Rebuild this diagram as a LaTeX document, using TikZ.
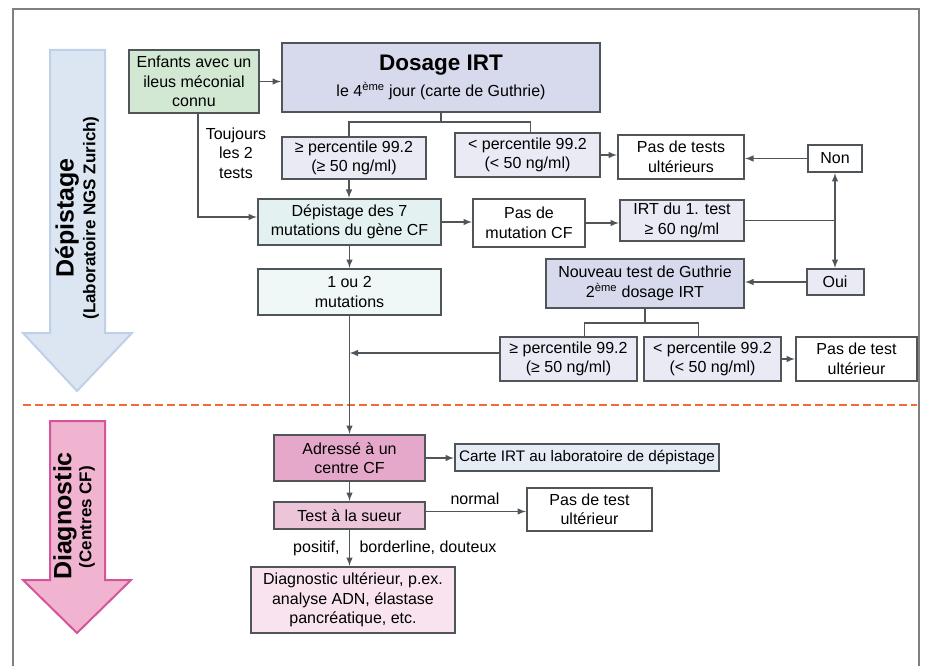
\documentclass[tikz,border=0pt]{standalone}
\usepackage{fontspec}
\setmainfont{Liberation Sans}
\usepackage{tikz}
\usetikzlibrary{calc,arrows}
\definecolor{bordgris}{HTML}{50555A}
\definecolor{cadregris}{HTML}{808080}
\definecolor{vertclair}{HTML}{D3E8D3}
\definecolor{lavfonce}{HTML}{D7D9EC}
\definecolor{lavclair}{HTML}{E9EAF4}
\definecolor{cyanfonce}{HTML}{E3F1F1}
\definecolor{cyanclair}{HTML}{EFF7F7}
\definecolor{rosefonce}{HTML}{E6A8CA}
\definecolor{rosemoyen}{HTML}{ECC5DB}
\definecolor{rosepale}{HTML}{F8E3EF}
\definecolor{bleugris}{HTML}{E6ECF5}
\definecolor{bleuclair}{HTML}{DCE6F3}
\definecolor{bleubord}{HTML}{BFD0E8}
\definecolor{rosefleche}{HTML}{F0B4D1}
\definecolor{rosebord}{HTML}{D4559A}
\definecolor{orangetrait}{HTML}{F26B3A}

\begin{document}
\begin{tikzpicture}[x=1pt,y=-1pt,font=\fontsize{16}{19.5}\selectfont,
                    boite/.style={draw=bordgris,line width=2pt,align=center,inner sep=1pt},
                    lien/.style={draw=bordgris,line width=1.9pt}]
                                     \useasboundingbox (0,0) rectangle (930,666);
                                     \draw[color=cadregris,line width=1.6pt] (13,666) -- (13,9) -- (919,9) -- (919,666);
                                     \draw[fill=bleuclair,draw=bleubord,line width=2pt] (50,50) -- (105,50) -- (105,333) -- (132,333) -- (77,391) -- (23,333) -- (50,333) -- cycle;
                                     \node[rotate=90,font=\fontsize{25}{28}\bfseries\selectfont](depi)at(67,218){Dépistage};
                                     \node[rotate=90,font=\fontsize{17}{20}\bfseries\selectfont](labo)at(91,218){(Laboratoire NGS Zurich)};
                                     \draw[fill=rosefleche,draw=rosebord,line width=2pt] (50,421) -- (105,421) -- (105,580) -- (131,580) -- (77,633) -- (23,580) -- (50,580) -- cycle;
                                     \node[rotate=90,font=\fontsize{25}{28}\bfseries\selectfont](diagn)at(65,516){Diagnostic};
                                     \node[rotate=90,font=\fontsize{17}{20}\bfseries\selectfont](centres)at(87,517){(Centres CF)};
                                     \draw[color=orangetrait,line width=2.5pt,dash pattern=on 8pt off 4pt] (23,405) -- (917,405);
                                     \node[boite,fill=vertclair,minimum width=130,minimum height=63](enfants)at(194,81.5){Enfants avec un\\ileus méconial\\connu};
                                     \node[boite,fill=lavfonce,minimum width=318,minimum height=69](dosage)at(441,77.5){{\fontsize{22.5}{26}\bfseries\selectfont Dosage IRT}\\[7pt]le 4\textsuperscript{ème} jour (carte de Guthrie)};
                                     \node[boite,fill=lavclair,minimum width=144,minimum height=42](pos1)at(354,158){≥ percentile 99.2\\(≥ 50 ng/ml)};
                                     \node[boite,fill=lavclair,minimum width=145,minimum height=44](neg1)at(527.5,155){< percentile 99.2\\(< 50 ng/ml)};
                                     \node[boite,fill=white,minimum width=126,minimum height=44](pastests)at(681,157){Pas de tests\\ultérieurs};
                                     \node[boite,fill=white,minimum width=54,minimum height=27](non)at(835,158.5){Non};
                                     \node[boite,fill=cyanfonce,minimum width=183,minimum height=46](depist)at(349.5,222){Dépistage des 7\\mutations du gène CF};
                                     \node[boite,fill=white,minimum width=112,minimum height=48](pasmut)at(529,223){Pas de\\mutation CF};
                                     \node[boite,fill=lavclair,minimum width=124,minimum height=41](irt1)at(682,220.5){IRT du 1. test\\≥ 60 ng/ml};
                                     \node[boite,fill=cyanclair,minimum width=183,minimum height=46](mut)at(349.5,292){1 ou 2\\mutations};
                                     \node[boite,fill=lavfonce,minimum width=198,minimum height=49](nouveau)at(645,283.5){Nouveau test de Guthrie\\2\textsuperscript{ème} dosage IRT};
                                     \node[boite,fill=lavclair,minimum width=57,minimum height=26](oui)at(835,282){Oui};
                                     \node[boite,fill=lavclair,minimum width=137,minimum height=44](pos2)at(568.5,359){≥ percentile 99.2\\(≥ 50 ng/ml)};
                                     \node[boite,fill=lavclair,minimum width=137,minimum height=44](neg2)at(712.5,359){< percentile 99.2\\(< 50 ng/ml)};
                                     \node[boite,fill=white,minimum width=121,minimum height=44](pastest2)at(856.5,359){Pas de test\\ultérieur};
                                     \node[boite,fill=rosefonce,minimum width=151,minimum height=46](adresse)at(349.5,458){Adressé à un\\centre CF};
                                     \node[boite,fill=bleugris,minimum width=264,minimum height=27,font=\fontsize{15.3}{19.5}\selectfont](carte)at(587,457.5){Carte IRT au laboratoire de dépistage};
                                     \node[boite,fill=rosemoyen,minimum width=151,minimum height=27](sueur)at(349.5,515.5){Test à la sueur};
                                     \node[boite,fill=white,minimum width=125,minimum height=43](pastest3)at(589.5,509.5){Pas de test\\ultérieur};
                                     \node[boite,fill=rosepale,minimum width=204,minimum height=66](diag)at(353,600){Diagnostic ultérieur, p.ex.\\analyse ADN, élastase\\pancréatique, etc.};
                                     \node[align=center](toujours)at(236,153){Toujours\\les 2\\tests};
                                     \node(normal)at(475,499){normal};
                                     \node[anchor=east](positif)at(343,548){positif,};
                                     \node[anchor=west](border)at(356,548){borderline, douteux};
                                     \draw[lien,-latex] (enfants.east) -- (enfants.east -| dosage.west);
                                     \draw[lien,-latex] ([xshift=4pt]enfants.south) |- ([yshift=5pt]depist.west);
                                     \draw[lien] (dosage.south) -- ++(0,9) coordinate (br1);
                                     \draw[lien] ([xshift=-5pt]pos1.north) |- (br1) -| ([xshift=3pt]neg1.north);
                                     \draw[lien,-latex] ([xshift=-5pt]pos1.south) -- ([xshift=-5pt]pos1.south |- depist.north);
                                     \draw[lien,-latex] (neg1.east) -- (neg1.east -| pastests.west);
                                     \draw[lien,-latex] (non.west) -- (non.west -| pastests.east);
                                     \draw[lien,-latex] (depist.east) -- (depist.east -| pasmut.west);
                                     \draw[lien,-latex] (pasmut.east) -- (pasmut.east -| irt1.west);
                                     \draw[lien] (irt1.east) -- (irt1.east -| non.south) coordinate (jonc);
                                     \draw[lien,-latex] (jonc) -- (non.south);
                                     \draw[lien,-latex] (jonc) -- (jonc |- oui.north);
                                     \draw[lien,-latex] (oui.west) -- (oui.west -| nouveau.east);
                                     \draw[lien,-latex] (depist.south) -- (mut.north);
                                     \draw[lien] (nouveau.south) -- ++(0,14) coordinate (br2);
                                     \draw[lien] ([xshift=16pt]pos2.north) |- (br2) -| ([xshift=-14pt]neg2.north);
                                     \draw[lien,-latex] (neg2.east) -- (neg2.east -| pastest2.west);
                                     \draw[lien,-latex] ([yshift=6pt]pos2.west) -- ([yshift=6pt]pos2.west -| mut.south);
                                     \draw[lien,-latex] (mut.south) -- (adresse.north);
                                     \draw[lien,-latex] (adresse.east) -- (adresse.east -| carte.west);
                                     \draw[lien,-latex] (adresse.south) -- (sueur.north);
                                     \draw[lien,-latex] ([yshift=4pt]sueur.east) -- ([yshift=4pt]sueur.east -| pastest3.west);
                                     \draw[lien,-latex] (sueur.south) -- (sueur.south |- diag.north);
                                 \end{tikzpicture}
\end{document}
